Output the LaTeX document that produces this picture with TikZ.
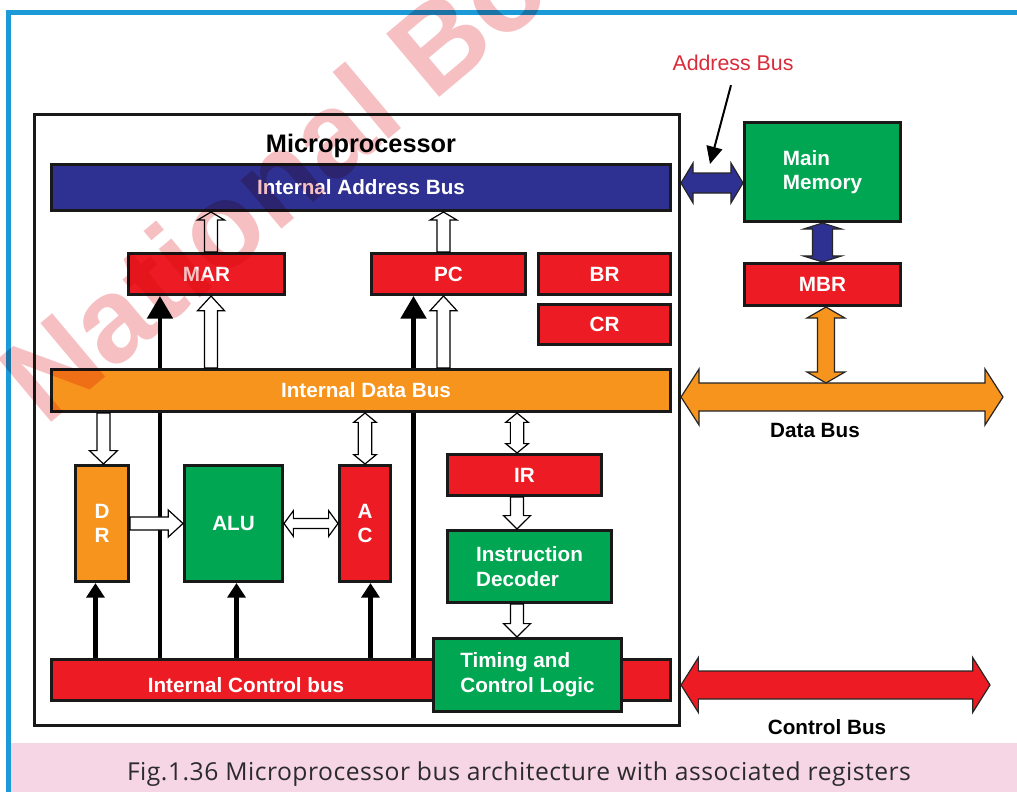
\documentclass[tikz,border=0pt]{standalone}
\usepackage{fontspec}
\setmainfont{Liberation Sans}
\newfontfamily\capfont[LetterSpace=2]{Open Sans}
\usetikzlibrary{calc,arrows.meta}

\definecolor{busblue}{HTML}{2E3192}
\definecolor{regred}{HTML}{ED1C24}
\definecolor{busorange}{HTML}{F7941D}
\definecolor{unitgreen}{HTML}{00A651}
\definecolor{framecyan}{HTML}{1B9AD7}
\definecolor{bandpink}{HTML}{F6D6E4}
\definecolor{markpink}{HTML}{F6C0C3}
\definecolor{labelred}{HTML}{D92B3A}
\definecolor{captiongray}{HTML}{2B2B2B}

\newcommand\lblfont{\bfseries\fontsize{15.5}{18.5}\selectfont}
\newcommand\titlefont{\bfseries\fontsize{19}{22}\selectfont}

\pgfdeclarelayer{back}
\pgfdeclarelayer{front}
\pgfsetlayers{back,main,front}

\tikzset{
  % arrow geometry: half shaft width / half head width / head length
  fat/.code args={#1/#2/#3}{\def\fatA{#1}\def\fatB{#2}\def\fatH{#3}},
  fatone/.style={fat={#1}, to path={
      ($(\tikztotarget)!\fatH!(\tikztostart)$) coordinate (fatq)
      ($(\tikztostart)!\fatA!90:(\tikztotarget)$)
      -- ($(fatq)!\fatA!90:(\tikztotarget)$)
      -- ($(fatq)!\fatB!90:(\tikztotarget)$)
      -- (\tikztotarget)
      -- ($(fatq)!\fatB!-90:(\tikztotarget)$)
      -- ($(fatq)!\fatA!-90:(\tikztotarget)$)
      -- ($(\tikztostart)!\fatA!-90:(\tikztotarget)$)
      -- cycle}},
  fattwo/.style={fat={#1}, to path={
      ($(\tikztotarget)!\fatH!(\tikztostart)$) coordinate (fatq)
      ($(\tikztostart)!\fatH!(\tikztotarget)$) coordinate (fatp)
      (\tikztostart)
      -- ($(fatp)!\fatB!90:(\tikztotarget)$)
      -- ($(fatp)!\fatA!90:(\tikztotarget)$)
      -- ($(fatq)!\fatA!90:(\tikztotarget)$)
      -- ($(fatq)!\fatB!90:(\tikztotarget)$)
      -- (\tikztotarget)
      -- ($(fatq)!\fatB!-90:(\tikztotarget)$)
      -- ($(fatq)!\fatA!-90:(\tikztotarget)$)
      -- ($(fatp)!\fatA!-90:(\tikztotarget)$)
      -- ($(fatp)!\fatB!-90:(\tikztotarget)$)
      -- cycle}},
  hollow/.style={draw=black, fill=white, line width=0.9pt},
  ext/.style={draw=black!85, line width=0.9pt},
  box/.style={draw=black!90, line width=2.3pt, inner sep=0pt, text=white,
    font=\lblfont, align=center},
  reg/.style={box, fill=regred},
  unit/.style={box, fill=unitgreen},
  bus/.style={box},
  sz/.style 2 args={minimum width=#1, minimum height=#2},
  ctlbig/.style={line width=3.2pt, -{Triangle[length=17pt,width=19pt]}},
  ctlsmall/.style={line width=3.2pt, -{Triangle[length=11pt,width=13.5pt]}},
  annot/.style={line width=1.5pt, -{Triangle[length=13pt,width=12pt]}},
  plain/.style={inner sep=0pt, anchor=base},
}

\begin{document}
\begin{tikzpicture}[x=0.75pt, y=-0.75pt]
\useasboundingbox (0,0) rectangle (1017,792);
\clip (0,0) rectangle (1017,792);

\begin{pgfonlayer}{back}
  \fill[white] (0,0) rectangle (1017,792);
\end{pgfonlayer}

% page frame and caption band
\draw[framecyan, line width=4pt] (8.5,12.5) rectangle (1040,820);
\fill[bandpink] (11.3,743) rectangle (1017,792);
\node[plain, font=\capfont\fontsize{18.5}{21}\selectfont, text=captiongray] (caption)
  at (519,780) {Fig.1.36 Microprocessor bus architecture with associated registers};

% microprocessor enclosure
\node[draw=black!90, line width=2.3pt, sz={483.75pt}{458.25pt}] (CPU) at (357,420) {};
\node[plain, font=\titlefont] (cputitle) at (361,152) {Microprocessor};

% internal buses
\node[bus, fill=busblue, sz={464.25pt}{34.5pt}] (IAB) at (361,187.5) {Internal Address Bus};
\node[bus, fill=busorange, sz={464.25pt}{31.5pt}] (IDB) at (361,390.5) {};
\node[plain, font=\lblfont, text=white] (idbtext) at (366,397) {Internal Data Bus};
\node[bus, fill=regred, sz={464.25pt}{30.75pt}] (ICB) at (361,680) {};
\node[plain, font=\lblfont, text=white] (icbtext) at (246,692) {Internal Control bus};

% registers
\node[reg, sz={117pt}{30.75pt}] (MAR) at (206.5,274) {MAR};
\node[reg, sz={115.5pt}{30.75pt}] (PC) at (448.5,274) {PC};
\node[reg, sz={99pt}{30.75pt}] (BR) at (604.5,274) {BR};
\node[reg, sz={99pt}{30pt}] (CR) at (604.5,324.5) {CR};
\node[box, fill=busorange, sz={39.75pt}{87pt}] (DR) at (102,523.5) {D\\R};
\node[unit, sz={73.5pt}{87pt}] (ALU) at (233.5,523.5) {ALU};
\node[reg, sz={38.25pt}{87pt}] (AC) at (365,523.5) {A\\C};
\node[reg, sz={115.5pt}{30.75pt}] (IR) at (524.5,475) {IR};
\node[unit, align=left, sz={123pt}{54pt}] (ID) at (529.5,566.5) {Instruction\\Decoder};
\node[unit, align=left, sz={141pt}{54.75pt}] (TCL) at (527.5,675) {Timing and\\Control Logic};

% memory side
\node[unit, align=left, sz={117pt}{74.25pt}] (MM) at (822.5,172) {Main\\Memory};
\node[reg, sz={117pt}{31.5pt}] (MBR) at (822.5,284.5) {MBR};

% control lines from the internal control bus
\coordinate (marline) at ([xshift=-34.9pt]MAR.south);
\coordinate (pcline) at ([xshift=-26.25pt]PC.south);
\coordinate (drline) at ([xshift=-4.9pt]DR.south);
\coordinate (aluline) at ([xshift=2.25pt]ALU.south);
\coordinate (acline) at ([xshift=4.1pt]AC.south);
\begin{pgfonlayer}{back}
  \draw[ctlbig] (ICB.center -| marline) -- (marline);
  \draw[ctlbig] (ICB.center -| pcline) -- (pcline);
  \draw[ctlsmall] (ICB.center -| drline) -- (drline);
  \draw[ctlsmall] (ICB.center -| aluline) -- (aluline);
  \draw[ctlsmall] (ICB.center -| acline) -- (acline);
\end{pgfonlayer}

% data paths inside the processor
\coordinate (marport) at ([xshift=3.4pt]MAR.north);
\coordinate (marin) at ([xshift=3.4pt]MAR.south);
\coordinate (pcport) at ([xshift=-3.75pt]PC.north);
\coordinate (pcin) at ([xshift=-3.75pt]PC.south);
\coordinate (drin) at ([xshift=1.1pt]DR.north);
\coordinate (irin) at ([xshift=-5.6pt]IR.north);

\draw[hollow, fatone={4.9pt/10.1pt/6pt}] (marport) to (marport |- IAB.south);
\draw[hollow, fatone={4.9pt/10.1pt/11pt}] (marin |- IDB.north) to (marin);
\draw[hollow, fatone={4.9pt/10.1pt/6pt}] (pcport) to (pcport |- IAB.south);
\draw[hollow, fatone={4.9pt/10.1pt/11pt}] (pcin |- IDB.north) to (pcin);
\draw[hollow, fatone={4.9pt/10.5pt/10pt}] (drin |- IDB.south) to (drin);
\draw[hollow, fatone={4.9pt/10.1pt/11pt}] (DR.east) to (ALU.west);
\draw[hollow, fattwo={3.75pt/9.6pt/7pt}] (ALU.east) to (AC.west);
\draw[hollow, fattwo={5pt/8.5pt/7pt}] (AC.north |- IDB.south) to (AC.north);
\draw[hollow, fattwo={5pt/8.5pt/7pt}] (irin |- IDB.south) to (irin);
\draw[hollow, fatone={4.9pt/10.1pt/10pt}] (IR.south -| irin) to (ID.north -| irin);
\draw[hollow, fatone={4.9pt/10.1pt/10pt}] (ID.south -| irin) to (TCL.north -| irin);

% external buses
\coordinate (abR) at ([yshift=-8.25pt]MM.west);
\coordinate (dbR) at (1003,397);
\coordinate (dbtop) at ([yshift=10.5pt]dbR);
\coordinate (cbR) at (990,685);
\coordinate (mbrport) at ([xshift=2.6pt]MBR.south);
\coordinate (abtip) at (710,164);

\draw[ext, fill=busblue, fattwo={7.5pt/15pt/9pt}] (CPU.east |- abR) to (abR);
\draw[ext, fill=busblue, fattwo={7.5pt/14.25pt/4.5pt}] (MM.south) to (MBR.north);
\draw[ext, fill=busorange, fattwo={10.5pt/21pt/13.5pt}] (CPU.east |- dbR) to (dbR);
\draw[ext, fill=busorange, fattwo={6.4pt/14.25pt/8.25pt}] (mbrport) to (mbrport |- dbtop);
\draw[ext, fill=regred, fattwo={10.5pt/20.6pt/13pt}] (CPU.east |- cbR) to (cbR);

% bus labels
\node[plain, font=\fontsize{16}{18}\selectfont, text=labelred] (abuslabel) at (733,70) {Address Bus};
\draw[annot] ([xshift=-1.5pt, yshift=-11pt]abuslabel.south) -- (abtip);
\node[plain, font=\lblfont] (dbuslabel) at (815,437) {Data Bus};
\node[plain, font=\lblfont] (cbuslabel) at (827,734) {Control Bus};

% publisher's mark
\begin{pgfonlayer}{front}
  \node[plain, anchor=base west, rotate=40, text=markpink, blend mode=multiply,
        font=\bfseries\fontsize{90}{96}\selectfont] (mark) at (45,428) {National Bo};
\end{pgfonlayer}
\end{tikzpicture}
\end{document}
